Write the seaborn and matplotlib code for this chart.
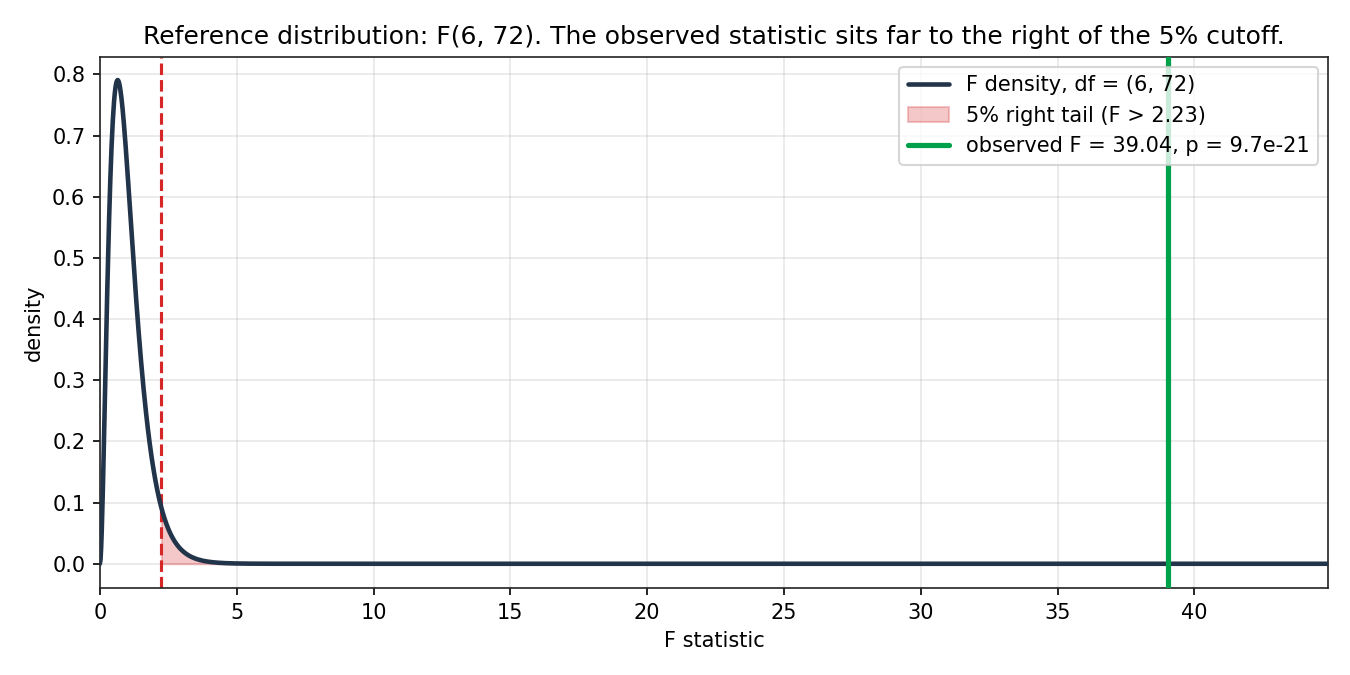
import math
import numpy as np
import pandas as pd
import matplotlib
matplotlib.use("Agg")
import matplotlib.pyplot as plt
import seaborn as sns

# Parameters shown on the chart
df_num = 6
df_den = 72
critical_f = 2.23
observed_f = 39.04
p_value_label = "9.7e-21"
x_max = 44.9

# Density of F(6, 72) on a grid
x_grid = np.linspace(0.0, x_max, 2000)
def f_pdf(x, d1, d2):
    out = np.zeros_like(x)
    m = x > 0
    xm = x[m]
    logc = (math.lgamma((d1 + d2) / 2) - math.lgamma(d1 / 2) - math.lgamma(d2 / 2)
            + (d1 / 2) * math.log(d1 / d2))
    out[m] = np.exp(logc + (d1 / 2 - 1) * np.log(xm) - ((d1 + d2) / 2) * np.log1p(d1 * xm / d2))
    return out
density = f_pdf(x_grid, df_num, df_den)
data = pd.DataFrame({"F": x_grid, "density": density})

sns.set_style("ticks")
plt.rcParams["font.family"] = ["DejaVu Sans"]
for k in ["text.color", "axes.labelcolor", "xtick.color", "ytick.color"]:
    plt.rcParams[k] = "black"

fig, ax = plt.subplots(figsize=(9, 4.5), dpi=150)
fig.subplots_adjust(left=0.074, right=0.984, top=0.916, bottom=0.129)

navy = "#22344a"
sns.lineplot(data=data, x="F", y="density", ax=ax, color=navy, linewidth=2.2,
             label=f"F density, df = ({df_num}, {df_den})", zorder=3)
tail = data[data["F"] >= critical_f]
ax.fill_between(tail["F"], 0, tail["density"], color="#d62728", alpha=0.25,
                label=f"5% right tail (F > {critical_f:.2f})", zorder=2)
ax.axvline(critical_f, color="#d62728", linestyle="--", linewidth=1.5, zorder=2)
ax.axvline(observed_f, color="#00a14b", linewidth=2.5,
           label=f"observed F = {observed_f:.2f}, p = {p_value_label}", zorder=4)

ax.set_xlim(0, x_max)
ax.set_ylim(-0.0395, 0.829)
ax.grid(True, alpha=0.3, color="#b0b0b0")
ax.set_xlabel("F statistic", fontsize=10)
ax.set_ylabel("density", fontsize=10)
ax.tick_params(labelsize=10, colors="black")
ax.set_title(f"Reference distribution: F({df_num}, {df_den}). The observed statistic sits far to the right of the 5% cutoff.",
             fontsize=12, color="black")
for s in ax.spines.values():
    s.set_color("#222222")
ax.legend(loc="upper right", fontsize=10)

fig.savefig("out.png", dpi=150)
